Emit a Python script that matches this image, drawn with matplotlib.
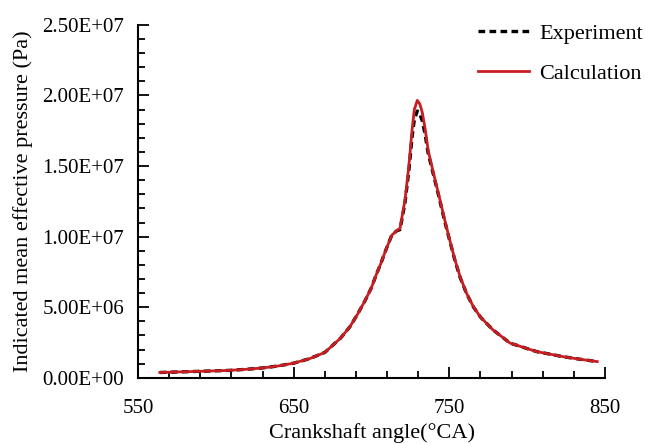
import numpy as np
import matplotlib
matplotlib.use('Agg')
import matplotlib.pyplot as plt
from matplotlib.ticker import MultipleLocator, FixedLocator, FuncFormatter

# 데이터
angle = [564, 580, 595, 609, 620, 630, 640, 650, 660, 670, 680, 686, 691, 696,
         700, 703, 706, 709, 713, 716, 718.3, 721.5, 724, 726, 727.5, 729.4, 731,
         732.6, 734.5, 736.4, 740, 744, 747, 750.4, 753.5, 756.8, 761, 765.4, 770,
         778, 789, 806, 823, 835, 845]
calc = [0.38e6, 0.43e6, 0.48e6, 0.53e6, 0.61e6, 0.70e6, 0.84e6, 1.04e6, 1.35e6,
        1.8e6, 2.8e6, 3.6e6, 4.5e6, 5.5e6, 6.4e6, 7.3e6, 8.1e6, 9.0e6, 10.1e6,
        10.4e6, 10.6e6, 12.6e6, 15.0e6, 17.5e6, 19.0e6, 19.65e6, 19.4e6, 18.8e6,
        17.6e6, 16.1e6, 14.4e6, 12.6e6, 11.2e6, 9.7e6, 8.4e6, 7.2e6, 6.0e6, 5.05e6,
        4.3e6, 3.4e6, 2.46e6, 1.86e6, 1.5e6, 1.3e6, 1.15e6]
expt = [0.38e6, 0.43e6, 0.48e6, 0.53e6, 0.61e6, 0.70e6, 0.84e6, 1.04e6, 1.35e6,
        1.8e6, 2.8e6, 3.6e6, 4.5e6, 5.5e6, 6.4e6, 7.3e6, 8.1e6, 9.0e6, 10.1e6,
        10.4e6, 10.5e6, 12.4e6, 14.7e6, 17.0e6, 18.3e6, 18.9e6, 18.7e6, 18.2e6,
        17.2e6, 15.9e6, 14.3e6, 12.5e6, 11.1e6, 9.65e6, 8.35e6, 7.15e6, 5.98e6,
        5.03e6, 4.3e6, 3.4e6, 2.46e6, 1.86e6, 1.5e6, 1.3e6, 1.15e6]
x_ticks = [550, 650, 750, 850]

plt.rcParams['font.family'] = ['Liberation Serif', 'DejaVu Serif']

fig = plt.figure(figsize=(6.45, 4.44), dpi=100)
ax = fig.add_axes([0.214, 0.149, 0.724, 0.795])

ax.plot(angle, expt, color='black', linestyle='--', dashes=(2, 1.3), linewidth=2.4,
        label='Experiment')
ax.plot(angle, calc, color='#c81e22', linewidth=2.0, label='Calculation')

ax.set_xlim(550, 850)
ax.set_ylim(0, 2.5e7)
ax.xaxis.set_major_locator(FixedLocator(x_ticks))
ax.xaxis.set_minor_locator(MultipleLocator(20, offset=10))
ax.yaxis.set_major_locator(MultipleLocator(5e6))
ax.yaxis.set_minor_locator(MultipleLocator(1e6))
ax.yaxis.set_major_formatter(FuncFormatter(lambda v, p: f'{v:.2E}'))

for s in ['top', 'right']:
    ax.spines[s].set_visible(False)
for s in ['left', 'bottom']:
    ax.spines[s].set_linewidth(1.5)
ax.tick_params(which='both', direction='in', width=1.3, labelsize=15)
ax.tick_params(which='major', length=8)
ax.tick_params(which='minor', length=5)
ax.tick_params(axis='x', which='major', pad=15)
ax.tick_params(axis='y', which='major', pad=10)

ax.set_xlabel('Crankshaft angle(°CA)', fontsize=16, labelpad=4)
ax.set_ylabel('Indicated mean effective pressure (Pa)', fontsize=16, labelpad=7)

fig.legend(loc='upper right', bbox_to_anchor=(643 / 645, 1 - 23 / 444), frameon=False,
           fontsize=16, handlelength=2.3, labelspacing=0.9, handletextpad=0.45,
           borderpad=0, borderaxespad=0)

fig.savefig('out.png', dpi=100)
